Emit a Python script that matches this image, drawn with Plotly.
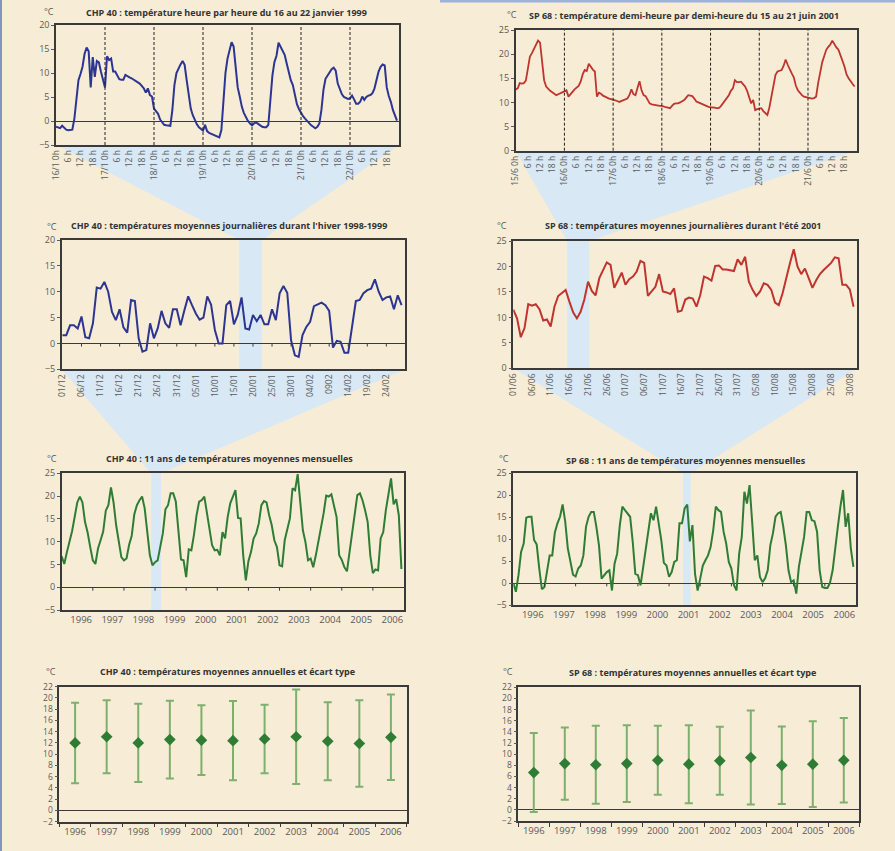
import plotly.graph_objects as go

W, H = 895, 851
BG = "#F7ECD6"
FUNNEL = "#D8E8F5"
FRAME = "#3A3A3A"
TXT = "#5A5A5A"
TITLE = "#333333"
FONT = "Open Sans"
BLUE = "#2C3591"
RED = "#C0342E"
GREEN = "#2F7D35"
ERR = "#7DB06E"

# ---------------- data ----------------
hours = list(range(168))
chp_hourly = [
    -1.2, -1.4, -1.5, -1.0, -1.5, -1.8, -1.9, -1.9, -1.8, 0.5, 5.0, 8.5, 9.8, 11.3, 14.0, 15.3, 14.5, 7.0, 13.3, 9.2, 12.5, 12.2, 10.3, 8.5,
    7.0, 13.5, 12.7, 13.0, 10.3, 10.3, 9.5, 8.7, 8.6, 8.6, 9.6, 9.3, 9.1, 8.9, 8.6, 8.3, 8.0, 7.8, 7.3, 6.8, 5.9, 6.8, 5.4, 5.1,
    2.6, 1.9, 1.5, 0.3, -0.4, -0.8, -0.9, -1.0, -1.0, 2.3, 7.5, 10.0, 11.0, 11.8, 12.5, 11.7, 8.5, 5.0, 2.6, 1.2, 0.2, -0.7, -1.3, -1.6,
    -2.0, -0.8, -2.1, -2.5, -2.7, -2.8, -3.0, -3.2, -3.4, -1.9, 4.0, 10.0, 13.0, 14.8, 16.4, 15.5, 11.0, 7.0, 5.1, 3.0, 1.7, 0.7, 0.0, -0.5,
    -0.9, -0.5, -0.3, -0.6, -0.9, -1.2, -1.3, -1.3, -0.8, 4.0, 9.5, 12.3, 13.6, 16.3, 15.5, 14.8, 13.8, 12.0, 10.0, 8.5, 7.5, 5.1, 3.5, 2.5,
    1.6, 1.0, 0.5, 0.0, -0.5, -0.9, -1.2, -1.5, -1.2, -0.5, 2.3, 6.5, 8.8, 9.5, 10.1, 10.8, 11.1, 10.5, 7.8, 6.5, 5.6, 5.0, 4.8, 4.6,
    4.7, 5.3, 4.5, 3.6, 3.6, 4.0, 5.1, 4.4, 5.0, 5.3, 5.4, 5.8, 6.8, 8.5, 10.3, 11.3, 11.8, 11.6, 7.0, 5.2, 4.0, 2.3, 1.0, 0.1,
]
sp_hourly = [
    12.7, 12.9, 14.0, 13.9, 14.0, 14.5, 17.0, 19.5, 20.2, 21.0, 22.0, 22.8, 22.4, 19.0, 14.6, 13.3, 12.8, 12.4, 12.1, 11.8, 11.5, 11.7, 11.9, 12.0,
    12.2, 12.5, 11.2, 11.6, 12.2, 12.7, 13.0, 13.4, 14.3, 15.8, 16.7, 16.5, 18.0, 17.3, 16.8, 16.4, 11.2, 12.0, 11.8, 11.4, 11.2, 10.9, 10.8, 10.7,
    10.6, 10.5, 10.3, 10.1, 10.3, 10.5, 10.6, 10.8, 11.5, 12.7, 11.7, 11.5, 13.0, 14.4, 12.5, 11.5, 11.3, 10.6, 9.8, 9.6, 9.5, 9.5, 9.4, 9.3,
    9.3, 9.1, 9.0, 8.9, 8.8, 9.3, 9.7, 9.8, 9.8, 10.0, 10.2, 10.5, 11.0, 11.5, 11.4, 11.3, 10.8, 10.2, 10.0, 9.8, 9.6, 9.4, 9.3, 9.1,
    9.0, 9.0, 8.9, 8.8, 8.8, 9.2, 9.8, 10.4, 10.9, 11.5, 12.4, 12.9, 14.6, 14.2, 14.2, 14.3, 13.8, 13.3, 12.4, 11.2, 9.8, 10.5, 8.4, 8.6,
    8.7, 8.8, 8.2, 7.7, 7.4, 9.0, 11.2, 14.0, 15.7, 16.4, 16.5, 16.7, 17.6, 18.9, 17.8, 16.7, 16.0, 15.2, 13.5, 12.5, 11.9, 11.5, 11.2, 11.1,
    11.0, 10.9, 10.8, 10.9, 11.2, 14.0, 16.5, 18.3, 19.6, 20.9, 21.5, 22.0, 22.8, 22.0, 21.4, 20.9, 19.5, 18.6, 17.4, 15.8, 15.0, 14.3, 13.8, 13.3,
]
chp_days = ["16/1", "17/1", "18/1", "19/1", "20/1", "21/1", "22/1"]
sp_days = ["15/6", "16/6", "17/6", "18/6", "19/6", "20/6", "21/6"]

chp_daily = [
    1.6, 1.6, 3.5, 3.5, 2.9, 5.2, 1.2, 1.0, 3.9, 10.8,
    10.6, 11.9, 10.0, 6.1, 4.5, 6.6, 3.1, 2.1, 8.4, 8.2,
    1.0, -1.6, -1.3, 3.9, 1.0, 2.9, 6.3, 3.9, 3.0, 6.6,
    6.6, 3.5, 6.4, 9.1, 7.4, 5.8, 4.6, 5.0, 9.1, 7.5,
    2.6, 0.0, 0.0, 7.4, 8.2, 3.7, 5.5, 8.9, 2.9, 2.7,
    5.5, 4.3, 5.5, 3.7, 3.7, 6.6, 4.5, 9.7, 11.1, 9.8,
    0.6, -2.3, -2.6, 1.6, 3.2, 4.2, 7.2, 7.5, 7.9, 7.4,
    6.3, -0.8, 0.5, 0.3, -1.8, -1.8, 3.5, 8.2, 8.4, 9.7,
    10.3, 10.6, 12.4, 10.0, 8.4, 8.9, 9.1, 6.6, 9.3, 7.4,
]
chp_daily_labels = ["01/12", "06/12", "11/12", "16/12", "21/12", "26/12", "31/12", "05/01", "10/01",
                    "15/01", "20/01", "25/01", "30/01", "04/02", "0902", "14/02", "19/02", "24/02"]

sp_daily = [
    11.5, 9.8, 6.1, 7.9, 12.6, 12.3, 12.6, 11.6, 9.4, 9.6,
    8.2, 12.1, 14.2, 14.9, 15.4, 13.1, 11.0, 9.8, 11.1, 13.5,
    17.0, 15.2, 14.3, 17.7, 19.4, 20.8, 20.3, 15.8, 17.3, 18.8,
    16.4, 17.5, 18.0, 19.0, 21.1, 20.7, 14.2, 15.1, 16.0, 18.5,
    15.1, 14.9, 14.6, 15.7, 11.1, 11.3, 13.5, 13.9, 13.7, 12.1,
    14.4, 18.0, 17.7, 17.2, 20.1, 20.2, 19.4, 19.4, 19.3, 19.1,
    21.4, 20.3, 21.9, 17.0, 15.4, 14.2, 15.1, 16.7, 16.4, 15.4,
    12.9, 12.4, 14.7, 18.0, 20.7, 23.4, 20.0, 18.5, 19.6, 17.7,
    15.8, 17.3, 18.5, 19.3, 20.1, 20.7, 21.8, 21.6, 16.4, 16.4,
    15.5, 12.1,
]
sp_daily_labels = ["01/06", "06/06", "11/06", "16/06", "21/06", "26/06", "01/07", "06/07", "11/07", "16/07",
                   "21/07", "26/07", "31/07", "05/08", "10/08", "15/08", "20/08", "25/08", "30/08"]

years = ["1996", "1997", "1998", "1999", "2000", "2001", "2002", "2003", "2004", "2005", "2006"]

chp_monthly = [
    6.8, 5.1, 7.7, 9.9, 12.3, 15.4, 18.6, 19.9, 18.6, 14.3, 12.0, 8.8,
    5.9, 5.1, 8.5, 10.3, 12.2, 16.8, 18.0, 21.9, 18.6, 13.6, 9.9, 6.6,
    5.9, 6.3, 9.3, 11.3, 16.0, 18.0, 19.1, 19.9, 17.3, 12.1, 7.0, 4.8,
    5.5, 5.9, 9.2, 11.8, 17.1, 18.0, 20.6, 20.6, 18.8, 12.9, 6.1, 5.9,
    2.2, 8.3, 8.1, 11.5, 15.8, 18.8, 19.1, 19.9, 16.5, 12.9, 9.2, 8.1,
    8.2, 7.0, 12.1, 10.7, 15.4, 18.4, 19.9, 21.3, 15.2, 15.1, 7.0, 1.5,
    5.7, 7.7, 10.7, 11.8, 14.0, 18.0, 18.9, 18.6, 15.8, 13.6, 10.3, 8.8,
    4.8, 4.6, 10.3, 12.5, 15.1, 21.7, 21.3, 24.8, 18.4, 12.5, 9.9, 5.9,
    6.3, 4.4, 7.0, 9.9, 12.9, 16.2, 20.1, 19.9, 20.4, 18.0, 15.4, 7.0,
    6.0, 4.4, 3.5, 7.7, 12.1, 15.8, 20.2, 20.6, 19.1, 16.9, 14.3, 7.0,
    3.1, 3.9, 3.7, 10.7, 12.1, 16.9, 20.6, 23.9, 18.2, 19.3, 15.8, 4.0,
]
sp_monthly = [
    0.0, -2.0, 1.8, 7.1, 9.0, 14.9, 15.1, 15.1, 9.8, 8.8, 3.3, -1.4,
    -0.9, 3.3, 6.3, 6.3, 11.5, 13.6, 15.1, 17.9, 14.0, 7.9, 4.4, 1.9,
    1.5, 3.3, 4.0, 6.3, 12.8, 15.1, 16.2, 16.2, 12.8, 8.6, 1.0, 1.8,
    2.5, 2.9, -1.7, 4.4, 6.7, 13.0, 17.4, 16.6, 15.9, 15.1, 9.4, 2.1,
    1.8, -0.5, 3.5, 8.0, 12.6, 15.9, 14.3, 17.4, 13.6, 9.8, 4.6, 4.0,
    1.4, 2.5, 4.8, 5.2, 13.6, 13.6, 17.0, 17.9, 9.5, 13.2, 2.1, -1.7,
    1.0, 4.0, 5.2, 6.3, 8.2, 12.0, 17.4, 16.6, 16.2, 11.7, 9.0, 4.8,
    3.3, -0.5, -1.7, 6.7, 10.5, 20.8, 18.1, 22.3, 14.0, 5.2, 6.3, 1.4,
    0.2, 1.1, 2.9, 8.6, 11.3, 15.1, 15.9, 16.2, 12.8, 8.6, 2.9, 0.2,
    0.6, -2.4, 3.7, 7.1, 10.5, 16.2, 16.2, 14.3, 14.1, 11.7, 2.9, -0.9,
    -1.1, -1.1, 0.1, 2.9, 8.6, 12.8, 17.4, 21.2, 12.8, 15.9, 7.9, 3.7,
]

chp_annual_mean = [12.0, 13.1, 12.0, 12.6, 12.5, 12.4, 12.7, 13.1, 12.3, 11.9, 13.0]
chp_annual_std = [7.15, 6.5, 6.95, 6.9, 6.2, 7.05, 6.1, 8.4, 6.95, 7.7, 7.6]
sp_annual_mean = [6.7, 8.3, 8.1, 8.3, 8.9, 8.2, 8.8, 9.4, 8.0, 8.2, 8.9]
sp_annual_std = [7.1, 6.5, 7.0, 6.9, 6.2, 7.0, 6.1, 8.45, 6.95, 7.7, 7.6]

titles = [
    "CHP 40 : température heure par heure du 16 au 22 janvier 1999",
    "SP 68 : température demi-heure par demi-heure du 15 au 21 juin 2001",
    "CHP 40 : températures moyennes journalières durant l'hiver 1998-1999",
    "SP 68 : températures moyennes journalières durant l'été 2001",
    "CHP 40 : 11 ans de températures moyennes mensuelles",
    "SP 68 : 11 ans de températures moyennes mensuelles",
    "CHP 40 : températures moyennes annuelles et écart type",
    "SP 68 : températures moyennes annuelles et écart type",
]

# highlighted periods (in each lower chart's x units)
band_p3 = (46.4, 52.3)   # 16/01 - 22/01
band_p4 = (14.4, 20.3)   # 15/06 - 21/06
band_p5 = (34.5, 38.3)   # 12/1998 - 02/1999
band_p6 = (65.4, 68.3)   # 06/2001 - 08/2001

# ---------------- layout geometry (pixels) ----------------
P = {
    1: dict(x=(56, 399), y=(25, 145), xr=[0, 168], yr=[-5, 20], dt=5),
    2: dict(x=(515.7, 856.7), y=(30, 150.7), xr=[0, 168], yr=[0, 25], dt=5),
    3: dict(x=(61.7, 405), y=(240, 369.3), xr=[-0.2, 89.9], yr=[-5, 20], dt=5),
    4: dict(x=(513.3, 857.3), y=(241, 368.3), xr=[0, 92], yr=[0, 25], dt=5),
    5: dict(x=(61.7, 404), y=(473.3, 610), xr=[0, 132], yr=[-5, 25], dt=5),
    6: dict(x=(513.3, 856), y=(473.3, 605), xr=[0, 132], yr=[-5, 25], dt=5),
    7: dict(x=(59.3, 406.7), y=(686.7, 821.7), xr=[-0.5, 10.5], yr=[-2, 22], dt=2),
    8: dict(x=(518.3, 859.3), y=(687.3, 821), xr=[-0.5, 10.5], yr=[-2, 22], dt=2),
}
title_pos = {1: (226.7, 12), 2: (684, 15.5), 3: (229.5, 225.5), 4: (683, 225),
             5: (229.5, 459), 6: (686, 460), 7: (227.5, 671.5), 8: (692.7, 672)}
degc_pos = {1: (49, 11), 2: (511.5, 15), 3: (51.7, 227), 4: (502, 226),
            5: (51.7, 458), 6: (504, 459), 7: (50.7, 671), 8: (508, 671)}


def sfx(i):
    return "" if i == 1 else str(i)


def data_to_px_x(i, v):
    p = P[i]
    return p["x"][0] + (v - p["xr"][0]) / (p["xr"][1] - p["xr"][0]) * (p["x"][1] - p["x"][0])


fig = go.Figure()
layout = dict(
    width=W, height=H, margin=dict(l=0, r=0, t=0, b=0, autoexpand=False),
    paper_bgcolor=BG, plot_bgcolor="rgba(0,0,0,0)", showlegend=False,
    font=dict(family=FONT, size=9, color=TXT),
)

for i, p in P.items():
    s = sfx(i)
    yfont = dict(family=FONT, size=8.5 if i >= 7 else 9, color=TXT)
    xa = dict(domain=[p["x"][0] / W, p["x"][1] / W], range=p["xr"], anchor="y" + s,
              showline=True, mirror=True, linecolor=FRAME, linewidth=1.5, automargin=False,
              showgrid=False, zeroline=False, ticks="", fixedrange=True,
              tickfont=dict(family=FONT, size=8.5, color=TXT))
    ya = dict(domain=[1 - p["y"][1] / H, 1 - p["y"][0] / H], range=p["yr"], anchor="x" + s,
              showline=True, mirror=True, linecolor=FRAME, linewidth=1.5, automargin=False,
              showgrid=False, zeroline=p["yr"][0] < 0, zerolinecolor=FRAME, zerolinewidth=1.3,
              ticks="outside", ticklen=3, tickcolor=TXT, tickwidth=1,
              dtick=p["dt"], tick0=0, tickfont=yfont, fixedrange=True)
    layout["xaxis" + s] = xa
    layout["yaxis" + s] = ya

# hourly axes
for i, days in ((1, chp_days), (2, sp_days)):
    tv, tt = [], []
    for h in range(0, 168, 6):
        tv.append(h)
        tt.append(days[h // 24] + " 0h" if h % 24 == 0 else f"{h % 24} h")
    layout["xaxis" + sfx(i)].update(tickvals=tv, ticktext=tt, tickangle=-90)

layout["xaxis3"].update(tickvals=[5 * k for k in range(len(chp_daily_labels))],
                        ticktext=chp_daily_labels, tickangle=-90)
layout["xaxis4"].update(tickvals=[5 * k for k in range(len(sp_daily_labels))],
                        ticktext=sp_daily_labels, tickangle=-90)
for i in (5, 6):
    layout["xaxis" + str(i)].update(tickvals=[12 * k + 7.5 for k in range(11)], ticktext=years,
                                    tickangle=0, tickfont=dict(family=FONT, size=9.5, color=TXT))
for i in (7, 8):
    layout["xaxis" + str(i)].update(type="category", tickson="boundaries", ticks="outside",
                                    ticklen=4, tickcolor=FRAME, tickangle=0,
                                    tickfont=dict(family=FONT, size=9.5, color=TXT))

# ---------------- traces ----------------
fig.add_trace(go.Scatter(x=hours, y=chp_hourly, mode="lines", line=dict(color=BLUE, width=2), xaxis="x", yaxis="y"))
fig.add_trace(go.Scatter(x=hours, y=sp_hourly, mode="lines", line=dict(color=RED, width=1.8), xaxis="x2", yaxis="y2"))
fig.add_trace(go.Scatter(x=list(range(len(chp_daily))), y=chp_daily, mode="lines",
                         line=dict(color=BLUE, width=2), xaxis="x3", yaxis="y3"))
fig.add_trace(go.Scatter(x=list(range(len(sp_daily))), y=sp_daily, mode="lines",
                         line=dict(color=RED, width=2), xaxis="x4", yaxis="y4"))
fig.add_trace(go.Scatter(x=list(range(len(chp_monthly))), y=chp_monthly, mode="lines",
                         line=dict(color=GREEN, width=2), xaxis="x5", yaxis="y5"))
fig.add_trace(go.Scatter(x=list(range(len(sp_monthly))), y=sp_monthly, mode="lines",
                         line=dict(color=GREEN, width=2), xaxis="x6", yaxis="y6"))
for i, mean, std in ((7, chp_annual_mean, chp_annual_std), (8, sp_annual_mean, sp_annual_std)):
    fig.add_trace(go.Scatter(
        x=years, y=mean, mode="markers",
        marker=dict(symbol="diamond", size=9, color=GREEN),
        error_y=dict(type="data", array=std, symmetric=True, color=ERR, thickness=2, width=4),
        xaxis="x" + str(i), yaxis="y" + str(i)))

# ---------------- shapes ----------------
shapes = []


def funnel(upper, lower, band):
    pu, pl = P[upper], P[lower]
    bl = data_to_px_x(lower, band[0])
    br = data_to_px_x(lower, band[1])
    pts = [(pu["x"][0], pu["y"][1]), (pu["x"][1], pu["y"][1]), (br, pl["y"][0]), (br, pl["y"][1]),
           (bl, pl["y"][1]), (bl, pl["y"][0])]
    path = "M " + " L ".join(f"{x / W:.5f},{1 - y / H:.5f}" for x, y in pts) + " Z"
    shapes.append(dict(type="path", path=path, xref="paper", yref="paper",
                       fillcolor=FUNNEL, line=dict(width=0), layer="below"))


funnel(1, 3, band_p3)
funnel(3, 5, band_p5)
funnel(2, 4, band_p4)
funnel(4, 6, band_p6)

# dashed day separators
for i in (1, 2):
    for d in range(1, 7):
        shapes.append(dict(type="line", xref="x" + sfx(i), yref="y" + sfx(i) + " domain",
                           x0=24 * d, x1=24 * d, y0=0, y1=1,
                           line=dict(color="#222222", width=1, dash="3px,2px")))

# ticks hanging from the zero line
for k in range(1, 18):
    shapes.append(dict(type="line", xref="x3", yref="y3", x0=5 * k, x1=5 * k, y0=0, y1=-0.6,
                       line=dict(color=FRAME, width=1)))
for i in (5, 6):
    for k in range(1, 11):
        shapes.append(dict(type="line", xref="x" + str(i), yref="y" + str(i), x0=12 * k, x1=12 * k,
                           y0=0, y1=-0.75, line=dict(color=FRAME, width=1)))

# window edges
shapes.append(dict(type="rect", xref="paper", yref="paper", x0=0, x1=2 / W, y0=0, y1=1,
                   fillcolor="#7D96C6", line=dict(width=0)))
shapes.append(dict(type="rect", xref="paper", yref="paper", x0=440 / W, x1=1, y0=1 - 2.5 / H, y1=1,
                   fillcolor="#9DB2D8", line=dict(width=0)))

layout["shapes"] = shapes

# ---------------- titles ----------------
ann = []
for i, t in enumerate(titles, start=1):
    cx, cy = title_pos[i]
    ann.append(dict(text="<b>" + t + "</b>", x=cx / W, y=1 - cy / H, xref="paper", yref="paper",
                    showarrow=False, xanchor="center", yanchor="middle",
                    font=dict(family=FONT, size=9, color=TITLE)))
    dx, dy = degc_pos[i]
    ann.append(dict(text="°C", x=dx / W, y=1 - dy / H, xref="paper", yref="paper",
                    showarrow=False, xanchor="center", yanchor="middle",
                    font=dict(family=FONT, size=9, color=TXT)))
layout["annotations"] = ann

fig.update_layout(**layout)
fig.write_html("out.html", config={"displayModeBar": False},
               post_script="document.body.style.margin='0px';document.body.style.overflow='hidden';")
